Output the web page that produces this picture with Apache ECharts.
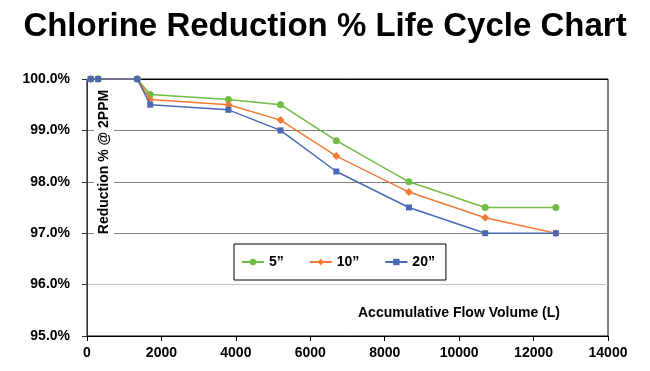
<!DOCTYPE html>
<html>
<head>
<meta charset="utf-8">
<script src="https://cdn.jsdelivr.net/npm/echarts@6/dist/echarts.min.js"></script>
<style>html,body{margin:0;padding:0;background:#fff}#c{width:650px;height:371px}</style>
</head>
<body>
<div id="c"></div>
<script>
const flowVolume = [100, 300, 1350, 1700, 3800, 5200, 6700, 8650, 10700, 12600];
const series5 = [100, 100, 100, 99.7, 99.6, 99.5, 98.8, 98.0, 97.5, 97.5];
const series10 = [100, 100, 100, 99.6, 99.5, 99.2, 98.5, 97.8, 97.3, 97.0];
const series20 = [100, 100, 100, 99.5, 99.4, 99.0, 98.2, 97.5, 97.0, 97.0];
const seriesNames = ['5\u201D', '10\u201D', '20\u201D'];

const FONT = 'Liberation Sans, Arial, sans-serif';
const pairs = arr => flowVolume.map((x, i) => [x, arr[i]]);

const chart = echarts.init(document.getElementById('c'), null, {renderer: 'canvas'});
chart.setOption({
  animation: false,
  backgroundColor: '#fff',
  title: {
    text: 'Chlorine Reduction % Life Cycle Chart',
    left: 'center', top: 5,
    textStyle: {fontFamily: FONT, fontSize: 33, fontWeight: 'bold', color: '#000'}
  },
  grid: {left: 87, right: 42, top: 79, bottom: 35, show: true, borderColor: '#000', borderWidth: 1,
    backgroundColor: 'transparent', containLabel: false, outerBoundsMode: 'none'},
  legend: {
    data: seriesNames,
    left: 234, top: 244,
    orient: 'horizontal',
    itemWidth: 22, itemHeight: 8, itemGap: 25,
    padding: [11, 11, 11, 7],
    borderColor: '#000', borderWidth: 1,
    backgroundColor: '#fff',
    textStyle: {fontFamily: FONT, fontSize: 14, fontWeight: 'bold', color: '#000'}
  },
  xAxis: {
    type: 'value', min: 0, max: 14000, interval: 2000,
    axisLine: {show: true, lineStyle: {color: '#000', width: 1}},
    axisTick: {show: true, inside: false, length: 5, lineStyle: {color: '#000'}},
    axisLabel: {margin: 10, fontFamily: FONT, fontSize: 14, fontWeight: 'bold', color: '#000',
      formatter: v => String(v)},
    splitLine: {show: false}
  },
  yAxis: {
    type: 'value', min: 95, max: 100, interval: 1,
    axisLine: {show: true, lineStyle: {color: '#333', width: 1}},
    axisTick: {show: true, inside: false, length: 5, lineStyle: {color: '#333'}},
    axisLabel: {margin: 17, fontFamily: FONT, fontSize: 14, fontWeight: 'bold', color: '#000',
      formatter: v => v.toFixed(1) + '%'},
    splitLine: {show: true, lineStyle: {color: ['#000', '#c4c4c4', '#808080', '#808080', '#808080', '#000'], width: 1.2}}
  },
  graphic: [
    {
      type: 'text',
      x: 104, y: 162,
      rotation: Math.PI / 2,
      style: {
        text: 'Reduction % @ 2PPM',
        fontFamily: FONT, fontSize: 14, fontWeight: 'bold', fill: '#000',
        align: 'center', verticalAlign: 'middle',
        backgroundColor: '#fff', padding: [3, 2]
      },
      z: 100
    },
    {
      type: 'text',
      left: 358, top: 306,
      style: {
        text: 'Accumulative Flow Volume (L)',
        fontFamily: FONT, fontSize: 14, fontWeight: 'bold', fill: '#000'
      }
    }
  ],
  series: [
    {name: seriesNames[0], type: 'line', data: pairs(series5), symbol: 'circle', symbolSize: 7,
      itemStyle: {color: '#6fbd45'}, lineStyle: {color: '#6fbd45', width: 1.5}, z: 3},
    {name: seriesNames[1], type: 'line', data: pairs(series10), symbol: 'diamond', symbolSize: 8,
      itemStyle: {color: '#f27a35'}, lineStyle: {color: '#f27a35', width: 1.5}, z: 4},
    {name: seriesNames[2], type: 'line', data: pairs(series20), symbol: 'rect', symbolSize: 6,
      itemStyle: {color: '#4a68b4'}, lineStyle: {color: '#4a68b4', width: 1.5}, z: 5}
  ]
});
</script>
</body>
</html>
